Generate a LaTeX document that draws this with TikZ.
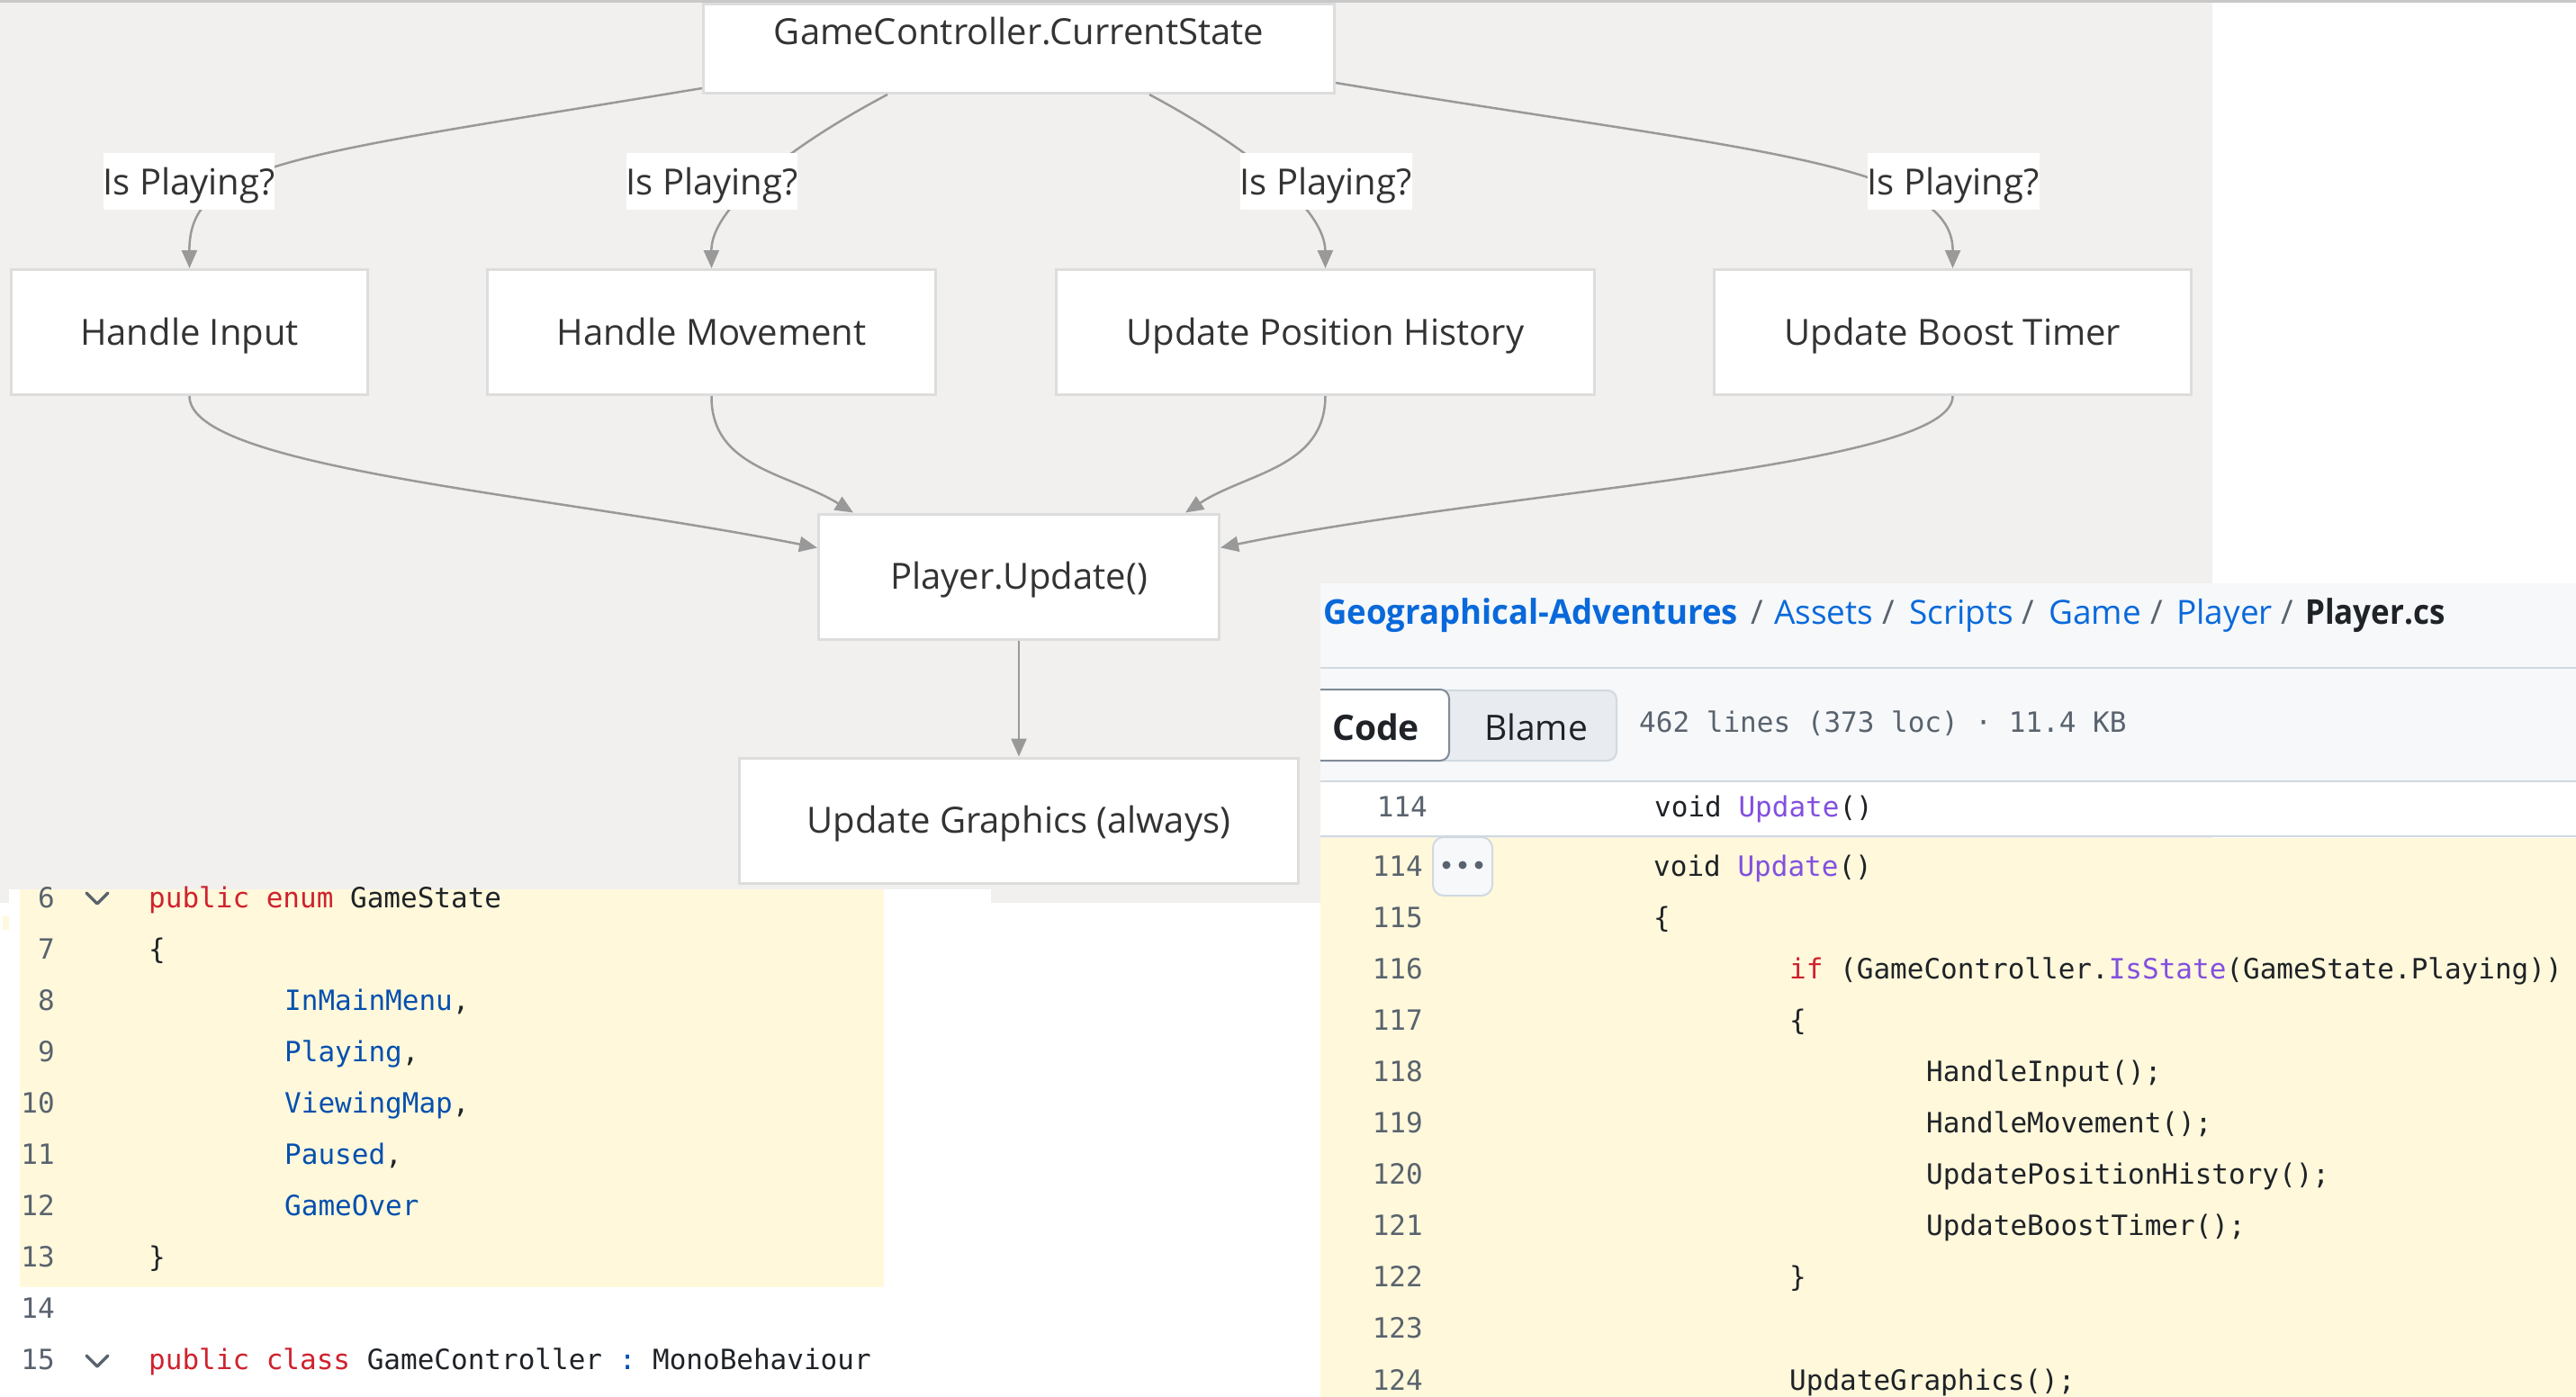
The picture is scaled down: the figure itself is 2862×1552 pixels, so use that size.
\documentclass[tikz,border=0pt]{standalone}
\usepackage{graphicx}
\usepackage{fontspec}
\setmainfont{Open Sans}
\newfontfamily\codefont{DejaVu Sans Mono}
\usetikzlibrary{arrows.meta,calc}
\definecolor{diagbg}{RGB}{241,240,238}
\definecolor{nodeborder}{RGB}{221,221,221}
\definecolor{edgecol}{RGB}{153,153,153}
\definecolor{nodetext}{RGB}{51,51,51}
\definecolor{hlyellow}{RGB}{255,248,219}
\definecolor{ghbg}{RGB}{246,248,250}
\definecolor{ghline}{RGB}{209,217,224}
\definecolor{ghblue}{RGB}{9,105,218}
\definecolor{ghtext}{RGB}{31,35,40}
\definecolor{ghmuted}{RGB}{89,99,110}
\definecolor{kwred}{RGB}{207,34,46}
\definecolor{enumblue}{RGB}{5,80,174}
\definecolor{fnpurple}{RGB}{130,80,223}
\definecolor{blamebg}{RGB}{232,236,240}
\definecolor{codeborder}{RGB}{129,139,152}
\definecolor{toplinecol}{RGB}{200,200,200}
\newcommand{\ckw}[1]{\textcolor{kwred}{#1}}
\newcommand{\cen}[1]{\textcolor{enumblue}{#1}}
\newcommand{\cfn}[1]{\textcolor{fnpurple}{#1}}
\frenchspacing
\tikzset{
  flowbox/.style={draw=nodeborder, line width=3pt, fill=white, inner sep=0pt, text=nodetext,
    font=\fontsize{40}{48}\selectfont, text height=29pt, text depth=1pt, minimum height=139pt},
  condlabel/.style={fill=white, inner sep=0pt, minimum width=189pt, minimum height=63pt, text=nodetext,
    font=\fontsize{40}{48}\selectfont, text height=29pt, text depth=0pt},
  flowedge/.style={draw=edgecol, line width=2.5pt, -{Triangle[length=20pt,width=17pt]}},
  codetxt/.style={inner sep=0pt, anchor=base west, font=\codefont\fontsize{31}{37}\selectfont, text=ghtext},
  linenum/.style={inner sep=0pt, anchor=base east, font=\codefont\fontsize{31}{37}\selectfont, text=ghmuted},
  crumb/.style={inner sep=0pt, anchor=base west, font=\fontsize{37}{46}\selectfont, text=ghblue},
  crumbsep/.style={inner sep=0pt, anchor=base, font=\fontsize{37}{46}\selectfont, text=ghmuted},
  segtext/.style={inner sep=0pt, anchor=base, font=\fontsize{39}{46}\selectfont, text=ghtext},
  chevron/.style={draw=ghmuted, line width=3.5pt, line cap=round, line join=round},
  sepline/.style={draw=ghline, line width=2.5pt},
}
\begin{document}
\begin{tikzpicture}[x=1pt,y=-1pt]
\useasboundingbox (0,0) rectangle (2862,1552);
\fill[white] (0,0) rectangle (2862,1552);
% diagram background
\fill[diagbg] (0,0) rectangle (2458,1003);
\draw[draw=toplinecol, line width=3pt] (0,2) -- (2862,2);

% left code panel
\fill[white] (10,988) rectangle (1101,1552);
\fill[hlyellow] (22,988) rectangle (982,1430);
\fill[hlyellow] (3,1018) rectangle (10,1033);

% right GitHub panel
\fill[ghbg] (1467,648) rectangle (2862,868);
\fill[white] (1467,868) rectangle (2862,929);
\fill[hlyellow] (1467,931) rectangle (2862,1552);
\draw[sepline] (1467,742) -- (2862,742);
\draw[sepline] (1467,868) -- (2862,868);
\draw[sepline] (1467,929) -- (2862,929);

% flow nodes
\node[flowbox, minimum width=701pt, minimum height=99pt, text depth=37pt] (gc) at (1132,54) {GameController.CurrentState};
\node[flowbox, minimum width=396pt] (hi) at (210.5,369) {Handle Input};
\node[flowbox, minimum width=498pt] (hm) at (790.5,369) {Handle Movement};
\node[flowbox, minimum width=598pt] (uph) at (1472.5,369) {Update Position History};
\node[flowbox, minimum width=530pt] (ubt) at (2169.5,369) {Update Boost Timer};
\node[flowbox, minimum width=445pt] (pu) at (1132,640.5) {Player.Update()};
\node[flowbox, minimum width=621pt] (ug) at (1132,911.5) {Update Graphics (always)};

% edges from state to tasks
\draw[flowedge] ($(gc.south west)+(0,-7)$) .. controls (327,173) and (210,180) .. (hi.north);
\draw[flowedge] ($(gc.south west)+(206,0)$) .. controls (880,161) and (790,230) .. (hm.north);
\draw[flowedge] ($(gc.south west)+(497,0)$) .. controls (1380,160) and (1472,230) .. (uph.north);
\draw[flowedge] ($(gc.south east)+(0,-13)$) .. controls (1936,167) and (2170,180) .. (ubt.north);

% edge labels
\node[condlabel] (q1) at (210,201.5) {Is Playing?};
\node[condlabel] (q2) at (791,201.5) {Is Playing?};
\node[condlabel] (q3) at (1473,201.5) {Is Playing?};
\node[condlabel] (q4) at (2170,201.5) {Is Playing?};

% edges into Player.Update
\draw[flowedge] (hi.south) .. controls (210,520) and (608,549) .. ($(pu.west)+(0,-32)$);
\draw[flowedge] (hm.south) .. controls (790,520) and (875,525) .. ($(pu.north west)+(40,0)$);
\draw[flowedge] (uph.south) .. controls (1472,520) and (1385,525) .. ($(pu.north east)+(-39,0)$);
\draw[flowedge] (ubt.south) .. controls (2170,520) and (1660,545) .. ($(pu.east)+(0,-32)$);
\draw[flowedge] (pu) -- (ug);

% left code text
\draw[chevron] (96,992) -- (108,1004) -- (120,992);
\draw[chevron] (96,1506) -- (108,1518) -- (120,1506);
\node[linenum] (l6n) at (61,1008) {6};
\node[codetxt] (l6c) at (165,1008) {\ckw{public enum} GameState};
\node[linenum] (l7n) at (61,1065.1) {7};
\node[codetxt] (l7c) at (165,1065.1) {\{};
\node[linenum] (l8n) at (61,1122.2) {8};
\node[codetxt] (l8c) at (316,1122.2) {\cen{InMainMenu},};
\node[linenum] (l9n) at (61,1179.3) {9};
\node[codetxt] (l9c) at (316,1179.3) {\cen{Playing},};
\node[linenum] (l10n) at (61,1236.4) {10};
\node[codetxt] (l10c) at (316,1236.4) {\cen{ViewingMap},};
\node[linenum] (l11n) at (61,1293.5) {11};
\node[codetxt] (l11c) at (316,1293.5) {\cen{Paused},};
\node[linenum] (l12n) at (61,1350.6) {12};
\node[codetxt] (l12c) at (316,1350.6) {\cen{GameOver}};
\node[linenum] (l13n) at (61,1407.7) {13};
\node[codetxt] (l13c) at (165,1407.7) {\}};
\node[linenum] (l14n) at (61,1464.8) {14};
\node[linenum] (l15n) at (61,1521.9) {15};
\node[codetxt] (l15c) at (165,1521.9) {\ckw{public class} GameController \cen{:} MonoBehaviour};

% GitHub header
\node[crumb, font=\bfseries\fontsize{38}{46}\selectfont] (bc1) at (1470,693) {\scalebox{0.96}[1]{Geographical-Adventures}};
\node[crumbsep] (bs1) at (1952,693) {/};
\node[crumb] (bc2) at (1971,693) {Assets};
\node[crumbsep] (bs2) at (2098,693) {/};
\node[crumb] (bc3) at (2121,693) {Scripts};
\node[crumbsep] (bs3) at (2253,693) {/};
\node[crumb] (bc4) at (2276,693) {Game};
\node[crumbsep] (bs4) at (2396,693) {/};
\node[crumb] (bc5) at (2418,693) {Player};
\node[crumbsep] (bs5) at (2541,693) {/};
\node[crumb, text=ghtext, font=\bfseries\fontsize{38}{46}\selectfont] (bc6) at (2561,693) {\scalebox{0.92}[1]{Player.cs}};

\begin{scope}
\clip (1467,700) rectangle (1900,900);
\draw[draw=ghline, fill=blamebg, line width=2pt, rounded corners=10pt] (1560,767) rectangle (1796,845);
\draw[draw=codeborder, fill=white, line width=2pt, rounded corners=10pt] (1420,766) rectangle (1610,845);
\end{scope}
\node[segtext, font=\bfseries\fontsize{39}{46}\selectfont] (segcode) at (1528.5,822) {Code};
\node[segtext] (segblame) at (1706.5,822) {Blame};
\node[codetxt, text=ghmuted] (info) at (1821,813) {462 lines (373 loc) · 11.4 KB};

% right code text
\node[linenum] (r0n) at (1586,907) {114};
\node[codetxt] (r0c) at (1838,907) {void \cfn{Update}()};
\draw[draw=ghline, fill=ghbg, line width=2pt, rounded corners=12pt] (1592,930) rectangle (1658,995);
\fill[ghmuted] (1607,961) circle (4.5pt) (1625,961) circle (4.5pt) (1643,961) circle (4.5pt);
\node[linenum] (r114n) at (1581,973) {114};
\node[codetxt] (r114c) at (1837,973) {void \cfn{Update}()};
\node[linenum] (r115n) at (1581,1030.1) {115};
\node[codetxt] (r115c) at (1837,1030.1) {\{};
\node[linenum] (r116n) at (1581,1087.2) {116};
\node[codetxt] (r116c) at (1988,1087.2) {\ckw{if} (GameController.\cfn{IsState}(GameState.Playing))};
\node[linenum] (r117n) at (1581,1144.3) {117};
\node[codetxt] (r117c) at (1988,1144.3) {\{};
\node[linenum] (r118n) at (1581,1201.4) {118};
\node[codetxt] (r118c) at (2140,1201.4) {HandleInput();};
\node[linenum] (r119n) at (1581,1258.5) {119};
\node[codetxt] (r119c) at (2140,1258.5) {HandleMovement();};
\node[linenum] (r120n) at (1581,1315.6) {120};
\node[codetxt] (r120c) at (2140,1315.6) {UpdatePositionHistory();};
\node[linenum] (r121n) at (1581,1372.7) {121};
\node[codetxt] (r121c) at (2140,1372.7) {UpdateBoostTimer();};
\node[linenum] (r122n) at (1581,1429.8) {122};
\node[codetxt] (r122c) at (1988,1429.8) {\}};
\node[linenum] (r123n) at (1581,1486.9) {123};
\node[linenum] (r124n) at (1581,1544) {124};
\node[codetxt] (r124c) at (1988,1544) {UpdateGraphics();};
\end{tikzpicture}
\end{document}
